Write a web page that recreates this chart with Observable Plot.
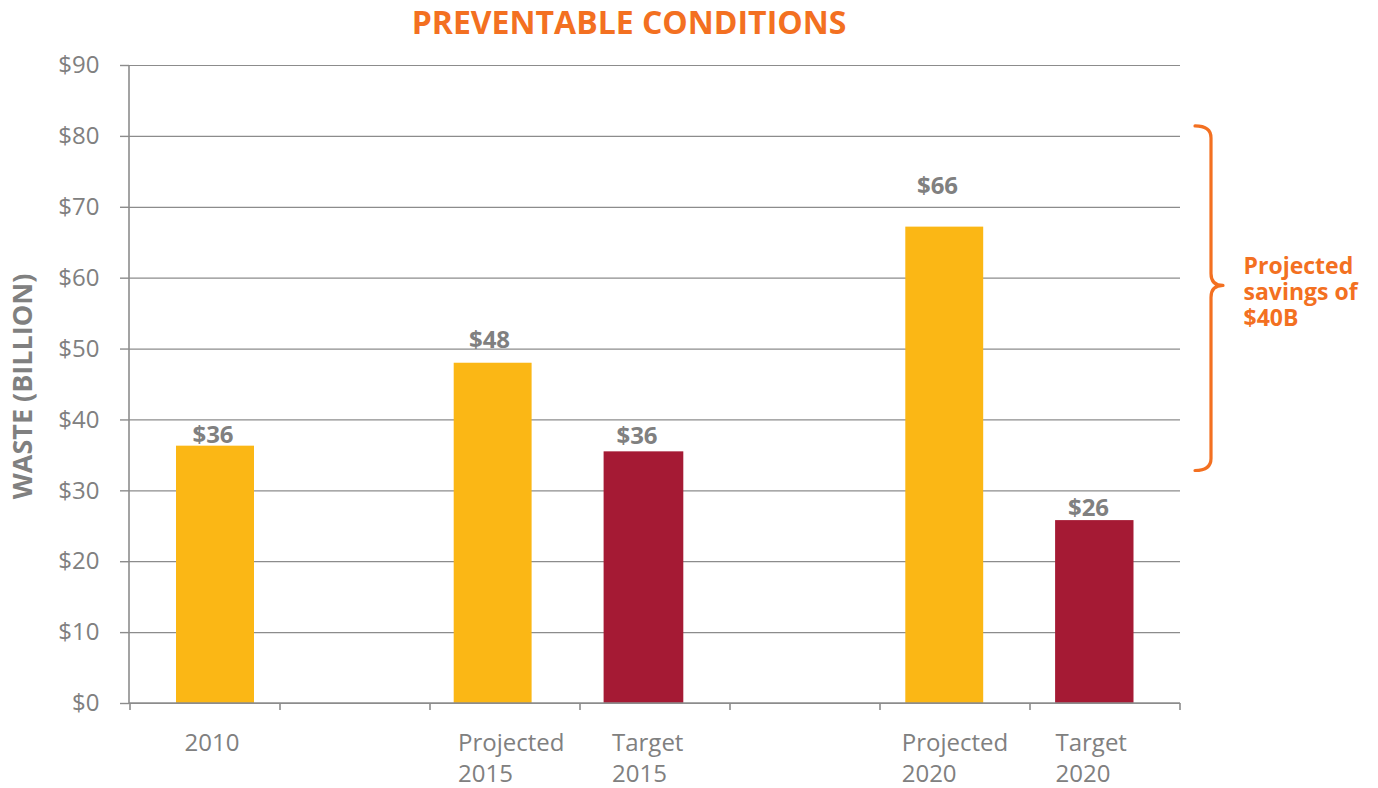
<!DOCTYPE html>
<html>
<head>
<meta charset="utf-8">
<script src="https://cdn.jsdelivr.net/npm/d3@7"></script>
<script src="https://cdn.jsdelivr.net/npm/@observablehq/plot@0.6"></script>
<style>
html, body { margin: 0; padding: 0; background: #fff; }
#title { height: 44px; line-height: 44px; width: 1258px; text-align: center;
  font-family: "Open Sans", sans-serif; font-weight: 700; font-size: 32px; color: #F37021; }
</style>
</head>
<body>
<div id="title">PREVENTABLE CONDITIONS</div>
<div id="chart"></div>
<script>
// ---------- data ----------
const slots = ["2010", "gapA", "P2015", "T2015", "gapB", "P2020", "T2020"];
const slotLabels = ["2010", "", "Projected\n2015", "Target\n2015", "", "Projected\n2020", "Target\n2020"];
const barSlots = ["2010", "P2015", "T2015", "P2020", "T2020"];
const barValues = [36.3, 48.0, 35.5, 67.2, 25.8];
const barSeries = ["Actual", "Projected", "Target", "Projected", "Target"];
const barLabels = ["$36", "$48", "$36", "$66", "$26"];
const yTicks = [0, 10, 20, 30, 40, 50, 60, 70, 80, 90];
const yTickLabels = ["$0", "$10", "$20", "$30", "$40", "$50", "$60", "$70", "$80", "$90"];
const bracketTop = 81.4;
const bracketTip = 58.9;
const bracketBottom = 32.8;
const bracketText = "Projected\nsavings of\n$40B";
const yTitle = "WASTE (BILLION)";

// ---------- style / layout ----------
const YELLOW = "#FBB715", RED = "#A51A34", ORANGE = "#F37021";
const TEXT_GRAY = "#808080", LINE_GRAY = "#8c8c8c";
const layout = {
  "2010":  {inL: 46,   inR: 26,   lblDx: 7.5,   lblDy: -10.7, capDx: -21},
  "P2015": {inL: 23.7, inR: 48.4, lblDx: -16,   lblDy: -23.4, capDx: -47.4},
  "T2015": {inL: 23.6, inR: 46.7, lblDx: -18.5, lblDy: -15.7, capDx: -43.5},
  "P2020": {inL: 25.3, inR: 46.8, lblDx: -18,   lblDy: -40.7, capDx: -53.8},
  "T2020": {inL: 25.1, inR: 46.5, lblDx: -17,   lblDy: -12.7, capDx: -50}
};

const rows = barSlots.map((s, i) => ({slot: s, value: barValues[i], series: barSeries[i], label: barLabels[i]}));
const captions = slots.map((s, i) => ({slot: s, text: slotLabels[i]})).filter(d => d.text !== "");

function frameMark(index, scales, values, dims) {
  const x = scales.x, y = scales.y;
  const x0 = dims.marginLeft, x1 = dims.width - dims.marginRight;
  const bw = (x.bandwidth ? x.bandwidth() : (x1 - x0) / slots.length);
  const yb = y(0);
  const g = d3.create("svg:g");
  g.append("line").attr("x1", x0).attr("x2", x1).attr("y1", yb).attr("y2", yb)
    .attr("stroke", LINE_GRAY).attr("stroke-width", 1.6);
  g.append("line").attr("x1", x0).attr("x2", x0).attr("y1", y(yTicks[yTicks.length - 1])).attr("y2", yb)
    .attr("stroke", LINE_GRAY).attr("stroke-width", 1.6);
  const edges = slots.map(s => x(s)).concat([x(slots[slots.length - 1]) + bw]);
  for (const e of edges) {
    g.append("line").attr("x1", e).attr("x2", e).attr("y1", yb).attr("y2", yb + 7)
      .attr("stroke", LINE_GRAY).attr("stroke-width", 1.6);
  }
  const xa = x1 + 15, xv = x1 + 31, xt = x1 + 43, r = 12;
  const yT = y(bracketTop), yM = y(bracketTip), yB = y(bracketBottom);
  const p = `M${xa},${yT} Q${xv},${yT} ${xv},${yT + r} L${xv},${yM - r} Q${xv},${yM} ${xt},${yM}` +
            ` Q${xv},${yM} ${xv},${yM + r} L${xv},${yB - r} Q${xv},${yB} ${xa},${yB}`;
  g.append("path").attr("d", p).attr("fill", "none").attr("stroke", ORANGE)
    .attr("stroke-width", 3.2).attr("stroke-linecap", "round").attr("stroke-linejoin", "round");
  return g.node();
}

const marks = [
  Plot.gridY(yTicks, {stroke: LINE_GRAY, strokeOpacity: 1, strokeWidth: 1.2})
];
for (const row of rows) {
  const L = layout[row.slot];
  marks.push(Plot.barY([row], {x: "slot", y: "value", fill: "series", insetLeft: L.inL, insetRight: L.inR}));
  marks.push(Plot.text([row], {x: "slot", y: "value", text: "label", dx: L.lblDx, dy: L.lblDy,
    fill: TEXT_GRAY, fontWeight: 700, fontSize: 24}));
}
for (const c of captions) {
  const L = layout[c.slot];
  marks.push(Plot.text([c], {x: "slot", text: "text", frameAnchor: "bottom", textAnchor: "start", lineAnchor: "top",
    dx: L.capDx, dy: 26, lineHeight: 1.29, fill: TEXT_GRAY, fontSize: 24}));
}
marks.push(
  Plot.axisY(yTicks, {tickFormat: d => yTickLabels[yTicks.indexOf(d)], tickSize: 9, tickPadding: 21,
    stroke: LINE_GRAY, strokeWidth: 1.4, fill: TEXT_GRAY, label: null}),
  frameMark,
  Plot.text([yTitle], {text: d => d, frameAnchor: "left", textAnchor: "middle", dx: -106, dy: 2, rotate: -90,
    fill: TEXT_GRAY, fontWeight: 700, fontSize: 27}),
  Plot.text([bracketText], {text: d => d, y: () => bracketTip, frameAnchor: "right", dx: 63, dy: 5.6,
    textAnchor: "start", lineHeight: 1.15, fill: ORANGE, fontWeight: 700, fontSize: 23})
);

const chart = Plot.plot({
  width: 1378,
  height: 744,
  marginTop: 21,
  marginBottom: 85,
  marginLeft: 129,
  marginRight: 198,
  style: {fontFamily: "'Open Sans', sans-serif", fontSize: "24px", color: TEXT_GRAY, background: "white", overflow: "visible"},
  x: {type: "band", domain: slots, padding: 0, axis: null},
  y: {domain: [0, 90], label: null},
  color: {domain: ["Actual", "Projected", "Target"], range: [YELLOW, YELLOW, RED]},
  marks
});
document.getElementById("chart").appendChild(chart);
</script>
</body>
</html>
